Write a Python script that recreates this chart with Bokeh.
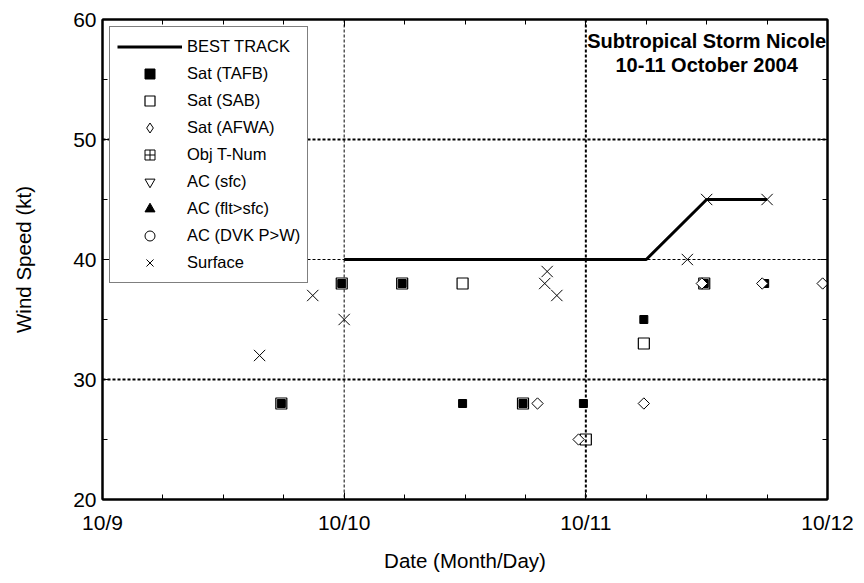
import math
from bokeh.plotting import figure
from bokeh.models import (Range1d, FixedTicker, LinearAxis, Span, Label, Legend,
                          LegendItem)
from bokeh.embed import file_html
from bokeh.resources import INLINE

# ---- data (days since 10/9 00Z) ----
x_tick_vals = [0, 1, 2, 3]
x_tick_labels = ["10/9", "10/10", "10/11", "10/12"]
x_minor = [0.25, 0.5, 0.75, 1.25, 1.5, 1.75, 2.25, 2.5, 2.75]
y_tick_vals = [20, 30, 40, 50, 60]
y_minor = [25, 35, 45, 55]

bt_t = [1.0, 1.25, 1.5, 1.75, 2.0, 2.25, 2.5, 2.75]
bt_v = [40, 40, 40, 40, 40, 40, 45, 45]

tafb_t = [0.74, 0.99, 1.24, 1.49, 1.74, 1.99, 2.24, 2.49, 2.74]
tafb_v = [28, 38, 38, 28, 28, 28, 35, 38, 38]

sab_t = [0.74, 0.99, 1.24, 1.49, 1.74, 2.0, 2.24, 2.49]
sab_v = [28, 38, 38, 38, 28, 25, 33, 38]

afwa_t = [1.80, 1.97, 2.24, 2.48, 2.73, 2.98]
afwa_v = [28, 25, 28, 38, 38, 38]

sfc_t = [0.65, 0.87, 1.0, 1.83, 1.84, 1.88, 2.42, 2.5, 2.75]
sfc_v = [32, 37, 35, 38, 39, 37, 40, 45, 45]

# series with no observations (legend only)
empty_t = [float("nan")]
empty_v = [float("nan")]

FONT = "Liberation Sans"

p = figure(width=856, height=575, output_backend="svg", toolbar_location=None,
           x_range=Range1d(0, 3), y_range=Range1d(20, 60),
           min_border_left=102, min_border_right=29, min_border_top=19, min_border_bottom=76)
p.xgrid.grid_line_color = None
p.ygrid.grid_line_color = None
p.outline_line_color = "black"
p.outline_line_width = 2
p.background_fill_color = "white"
p.border_fill_color = "white"

xt = FixedTicker(ticks=x_tick_vals, minor_ticks=x_minor)
yt = FixedTicker(ticks=y_tick_vals, minor_ticks=y_minor)

def style_axis(ax, ticker):
    ax.ticker = ticker
    ax.axis_line_color = "black"
    ax.axis_line_width = 2
    ax.major_tick_in = 7
    ax.major_tick_out = 0
    ax.minor_tick_in = 5
    ax.minor_tick_out = 0
    ax.major_tick_line_color = "black"
    ax.minor_tick_line_color = "black"
    ax.major_label_text_font = FONT
    ax.major_label_text_font_size = "21px"
    ax.major_label_text_color = "black"
    ax.axis_label_text_font = FONT
    ax.axis_label_text_font_size = "20.5px"
    ax.axis_label_text_font_style = "normal"
    ax.axis_label_text_color = "black"

xa = p.xaxis[0]
style_axis(xa, xt)
xa.major_label_overrides = {v: s for v, s in zip(x_tick_vals, x_tick_labels)}
xa.major_label_standoff = 11
xa.axis_label = "Date (Month/Day)"
xa.axis_label_standoff = 12

ya = p.yaxis[0]
style_axis(ya, yt)
ya.major_label_standoff = 6
ya.axis_label = "Wind Speed (kt)"
ya.axis_label_standoff = 35

for loc, tk in (("above", xt), ("right", yt)):
    ax = LinearAxis()
    style_axis(ax, tk)
    ax.major_label_text_font_size = "0px"
    ax.major_label_standoff = 0
    p.add_layout(ax, loc)

# grid lines
for loc, dim, w in ((1, "height", 1), (2, "height", 2), (30, "width", 2), (40, "width", 1), (50, "width", 2)):
    p.add_layout(Span(location=loc, dimension=dim, line_color="black", line_width=w, line_dash="3 2"))

# data
r_bt = p.line(bt_t, bt_v, line_color="black", line_width=3)
r_sab = p.scatter(sab_t, sab_v, marker="square", size=11, fill_color=None,
                  line_color="black", line_width=1.2)
r_tafb = p.scatter(tafb_t, tafb_v, marker="square", size=8, fill_color="black",
                   line_color="black", line_width=1)
p.scatter(afwa_t, afwa_v, marker="square", size=8, angle=math.pi / 4,
          fill_color="white", line_color="black", line_width=1)
r_afwa_leg = p.scatter(empty_t, empty_v, marker="diamond", size=12, fill_color="white",
                       line_color="black", line_width=1)
r_obj = p.scatter(empty_t, empty_v, marker="square_cross", size=11, fill_color=None, line_color="black")
r_acs = p.scatter(empty_t, empty_v, marker="inverted_triangle", size=11, fill_color=None, line_color="black")
r_acf = p.scatter(empty_t, empty_v, marker="triangle", size=11, fill_color="black", line_color="black")
r_dvk = p.scatter(empty_t, empty_v, marker="circle", size=9, fill_color=None, line_color="black")
r_sfc = p.scatter(sfc_t, sfc_v, marker="x", size=16, line_color="black", line_width=1)

items = [
    LegendItem(label="BEST TRACK", renderers=[r_bt]),
    LegendItem(label="Sat (TAFB)", renderers=[r_tafb]),
    LegendItem(label="Sat (SAB)", renderers=[r_sab]),
    LegendItem(label="Sat (AFWA)", renderers=[r_afwa_leg]),
    LegendItem(label="Obj T-Num", renderers=[r_obj]),
    LegendItem(label="AC (sfc)", renderers=[r_acs]),
    LegendItem(label="AC (flt>sfc)", renderers=[r_acf]),
    LegendItem(label="AC (DVK P>W)", renderers=[r_dvk]),
    LegendItem(label="Surface", renderers=[r_sfc]),
]
leg = Legend(items=items, location=(7, 216), margin=0, padding=7, spacing=2,
             glyph_width=65, glyph_height=25, label_standoff=5,
             label_text_font=FONT, label_text_font_size="16.5px", label_text_color="black",
             border_line_color="black", border_line_width=1,
             background_fill_color="white", background_fill_alpha=1.0)
p.add_layout(leg, "center")

p.add_layout(Label(x=2.5, y=58.25, text="Subtropical Storm Nicole", text_align="center",
                   text_baseline="middle", text_font=FONT, text_font_size="20px",
                   text_font_style="bold", text_color="black"))
p.add_layout(Label(x=2.5, y=56.25, text="10-11 October 2004", text_align="center",
                   text_baseline="middle", text_font=FONT, text_font_size="20px",
                   text_font_style="bold", text_color="black"))

open("out.html", "w").write(file_html(p, INLINE))
